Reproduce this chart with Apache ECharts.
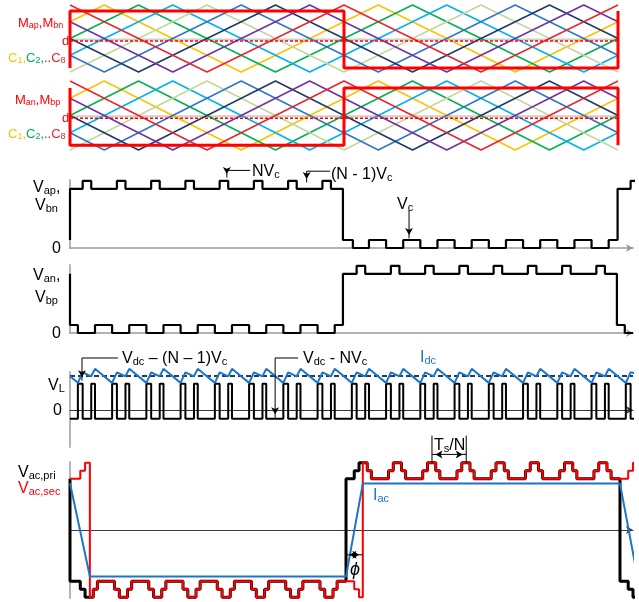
<!DOCTYPE html>
<html><head><meta charset="utf-8">
<script src="https://cdn.jsdelivr.net/npm/echarts@6/dist/echarts.min.js"></script>
<style>html,body{margin:0;padding:0;background:#fff}#c{width:639px;height:602px}</style>
</head><body><div id="c"></div><script>
// ---------- carriers (x in Ts/N units, y normalised 0..1) ----------
const carrierC1 = [[0,0.75],[1,1],[5,0],[9,1],[13,0],[16,0.75]];
const carrierC2 = [[0,0.5],[2,1],[6,0],[10,1],[14,0],[16,0.5]];
const carrierC3 = [[0,0.25],[3,1],[7,0],[11,1],[15,0],[16,0.25]];
const carrierC4 = [[0,0],[4,1],[8,0],[12,1],[16,0]];
const carrierC5 = [[0,0.25],[1,0],[5,1],[9,0],[13,1],[16,0.25]];
const carrierC6 = [[0,0.5],[2,0],[6,1],[10,0],[14,1],[16,0.5]];
const carrierC7 = [[0,0.75],[3,0],[7,1],[11,0],[15,1],[16,0.75]];
const carrierC8 = [[0,1],[4,0],[8,1],[12,0],[16,1]];
const modApBn = [[0,0.06],[0,0.91],[8,0.91],[8,0.06],[16,0.06],[16,0.91]];
const modAnBp = [[0,0.9],[0,0.07],[8,0.07],[8,0.9],[16,0.9],[16,0.07]];
const dLevelTop = [[0,0.463],[16,0.463]];
const refLevelTop = [[0,0.485],[16,0.485]];
const dLevelBot = [[0,0.46],[16,0.46]];
const refLevelBot = [[0,0.49],[16,0.49]];

// ---------- arm voltages (Vc units) ----------
const vapWave = [[0,1],[0,7.4],
 [0.37,8.4],[0.62,7.4],[1.37,8.4],[1.62,7.4],[2.37,8.4],[2.62,7.4],[3.37,8.4],[3.62,7.4],
 [4.37,8.4],[4.62,7.4],[5.37,8.4],[5.62,7.4],[6.37,8.4],[6.62,7.4],[7.37,8.4],[7.62,7.4],
 [7.97,1],[8.26,0],
 [8.73,1],[9.23,0],[9.73,1],[10.23,0],[10.73,1],[11.23,0],[11.73,1],[12.23,0],
 [12.73,1],[13.23,0],[13.73,1],[14.23,0],[14.73,1],[15.23,0],[15.73,1],
 [15.99,7.4],[16.37,8.4],[16.6,8.4]];
const vanWave = [[0,7.4],[0,1],[0.23,0],
 [0.73,1],[1.23,0],[1.73,1],[2.23,0],[2.73,1],[3.23,0],[3.73,1],[4.23,0],
 [4.73,1],[5.23,0],[5.73,1],[6.23,0],[6.73,1],[7.23,0],[7.73,1],
 [7.97,7.4],
 [8.37,8.4],[8.62,7.4],[9.37,8.4],[9.62,7.4],[10.37,8.4],[10.62,7.4],[11.37,8.4],[11.62,7.4],
 [12.37,8.4],[12.62,7.4],[13.37,8.4],[13.62,7.4],[14.37,8.4],[14.62,7.4],[15.37,8.4],[15.62,7.4],
 [15.97,1],[16.2,0],[16.44,0]];

// ---------- inductor voltage & dc current ----------
const vlWave = [[0,-1],
 [0.23,3],[0.37,-1],[0.62,3],[0.73,-1],[1.23,3],[1.37,-1],[1.62,3],[1.73,-1],
 [2.23,3],[2.37,-1],[2.62,3],[2.73,-1],[3.23,3],[3.37,-1],[3.62,3],[3.73,-1],
 [4.23,3],[4.37,-1],[4.62,3],[4.73,-1],[5.23,3],[5.37,-1],[5.62,3],[5.73,-1],
 [6.23,3],[6.37,-1],[6.62,3],[6.73,-1],[7.23,3],[7.37,-1],[7.62,3],[7.73,-1],
 [8.23,3],[8.37,-1],[8.62,3],[8.73,-1],[9.23,3],[9.37,-1],[9.62,3],[9.73,-1],
 [10.23,3],[10.37,-1],[10.62,3],[10.73,-1],[11.23,3],[11.37,-1],[11.62,3],[11.73,-1],
 [12.23,3],[12.37,-1],[12.62,3],[12.73,-1],[13.23,3],[13.37,-1],[13.62,3],[13.73,-1],
 [14.23,3],[14.37,-1],[14.62,3],[14.73,-1],[15.23,3],[15.37,-1],[15.62,3],[15.73,-1],
 [16.23,3],[16.37,-1],[16.47,-1]];
const idcWave = [[0,3.85],
 [0.23,3.1],[0.37,4.3],[0.62,3.85],[0.73,4.7],[1.23,3.1],[1.37,4.3],[1.62,3.85],[1.73,4.7],
 [2.23,3.1],[2.37,4.3],[2.62,3.85],[2.73,4.7],[3.23,3.1],[3.37,4.3],[3.62,3.85],[3.73,4.7],
 [4.23,3.1],[4.37,4.3],[4.62,3.85],[4.73,4.7],[5.23,3.1],[5.37,4.3],[5.62,3.85],[5.73,4.7],
 [6.23,3.1],[6.37,4.3],[6.62,3.85],[6.73,4.7],[7.23,3.1],[7.37,4.3],[7.62,3.85],[7.73,4.7],
 [8.23,3.1],[8.37,4.3],[8.62,3.85],[8.73,4.7],[9.23,3.1],[9.37,4.3],[9.62,3.85],[9.73,4.7],
 [10.23,3.1],[10.37,4.3],[10.62,3.85],[10.73,4.7],[11.23,3.1],[11.37,4.3],[11.62,3.85],[11.73,4.7],
 [12.23,3.1],[12.37,4.3],[12.62,3.85],[12.73,4.7],[13.23,3.1],[13.37,4.3],[13.62,3.85],[13.73,4.7],
 [14.23,3.1],[14.37,4.3],[14.62,3.85],[14.73,4.7],[15.23,3.1],[15.37,4.3],[15.62,3.85],[15.73,4.7],
 [16.23,3.1],[16.37,4.3],[16.5,4.2]];
const idcMean = [[0,3.89],[16.44,3.89]];

// ---------- transformer voltages & ac current ----------
const vacPri = [[0,6.4],[0,-6.4],
 [0.3,-7.4],[0.44,-8.4],[0.68,-7.4],[0.8,-6.4],[1.3,-7.4],[1.44,-8.4],[1.68,-7.4],[1.8,-6.4],
 [2.3,-7.4],[2.44,-8.4],[2.68,-7.4],[2.8,-6.4],[3.3,-7.4],[3.44,-8.4],[3.68,-7.4],[3.8,-6.4],
 [4.3,-7.4],[4.44,-8.4],[4.68,-7.4],[4.8,-6.4],[5.3,-7.4],[5.44,-8.4],[5.68,-7.4],[5.8,-6.4],
 [6.3,-7.4],[6.44,-8.4],[6.68,-7.4],[6.8,-6.4],[7.3,-7.4],[7.44,-8.4],[7.68,-7.4],[7.8,-6.4],
 [8.06,6.4],
 [8.3,7.4],[8.44,8.4],[8.68,7.4],[8.8,6.4],[9.3,7.4],[9.44,8.4],[9.68,7.4],[9.8,6.4],
 [10.3,7.4],[10.44,8.4],[10.68,7.4],[10.8,6.4],[11.3,7.4],[11.44,8.4],[11.68,7.4],[11.8,6.4],
 [12.3,7.4],[12.44,8.4],[12.68,7.4],[12.8,6.4],[13.3,7.4],[13.44,8.4],[13.68,7.4],[13.8,6.4],
 [14.3,7.4],[14.44,8.4],[14.68,7.4],[14.8,6.4],[15.3,7.4],[15.44,8.4],[15.68,7.4],[15.8,6.4],
 [16.06,-6.4],[16.3,-7.4],[16.44,-8.4],[16.6,-8.4]];
const vacSec = [[0,6.4],[0.3,7.4],[0.44,8.4],
 [0.58,-8.4],[0.68,-7.4],[0.8,-6.4],[1.3,-7.4],[1.44,-8.4],[1.68,-7.4],[1.8,-6.4],
 [2.3,-7.4],[2.44,-8.4],[2.68,-7.4],[2.8,-6.4],[3.3,-7.4],[3.44,-8.4],[3.68,-7.4],[3.8,-6.4],
 [4.3,-7.4],[4.44,-8.4],[4.68,-7.4],[4.8,-6.4],[5.3,-7.4],[5.44,-8.4],[5.68,-7.4],[5.8,-6.4],
 [6.3,-7.4],[6.44,-8.4],[6.68,-7.4],[6.8,-6.4],[7.3,-7.4],[7.44,-8.4],[7.68,-7.4],[7.8,-6.4],
 [8.3,-7.4],[8.44,-8.4],
 [8.55,8.4],[8.68,7.4],[8.8,6.4],[9.3,7.4],[9.44,8.4],[9.68,7.4],[9.8,6.4],
 [10.3,7.4],[10.44,8.4],[10.68,7.4],[10.8,6.4],[11.3,7.4],[11.44,8.4],[11.68,7.4],[11.8,6.4],
 [12.3,7.4],[12.44,8.4],[12.68,7.4],[12.8,6.4],[13.3,7.4],[13.44,8.4],[13.68,7.4],[13.8,6.4],
 [14.3,7.4],[14.44,8.4],[14.68,7.4],[14.8,6.4],[15.3,7.4],[15.44,8.4],[15.68,7.4],[15.8,6.4],
 [16.3,7.4],[16.44,8.4],[16.55,-8.4],[16.57,-8.4]];
const iacWave = [[0,5.85],[0.58,-5.8],[8.06,-5.8],[8.55,5.8],[16.06,5.8],[16.55,-5.4]];

// ---------- annotation anchor points (data units) ----------
const arrNVc = [[5.26,9.7],[4.58,9.7],[4.58,8.8]];
const arrN1Vc = [[7.59,9.6],[6.91,9.6],[6.91,8.2]];
const arrVc = [[9.9,4.75],[9.9,1.2]];
const arrVdcN1 = [[1.4,5.94],[0.35,5.94],[0.35,3.35]];
const arrVdcN = [[6.66,5.94],[5.99,5.94],[5.99,-0.9]];
const arrPhi = [[8.06,-3.1],[8.55,-3.1]];
const tsTickA = [[10.57,11.8],[10.57,8.4]];
const tsTickB = [[11.57,11.8],[11.57,8.4]];
const tsSpan = [[10.57,9.45],[11.57,9.45]];

const FONT = '"Liberation Sans", Arial, Helvetica, sans-serif';
const YEL='#FFC000', GRN='#00B050', LBL='#00B0F0', OLV='#C3D69B', BLU='#2E75C6', NAV='#1F3864', PUR='#7030A0', CRED='#E8262A', RED='#FF0000', IBLUE='#1C75C8';

const carriers = [[carrierC1,YEL],[carrierC2,GRN],[carrierC3,LBL],[carrierC4,OLV],[carrierC5,BLU],[carrierC6,NAV],[carrierC7,PUR],[carrierC8,CRED]];

const grids = [
 {left:70, top:5, width:548, height:67},
 {left:70, top:81, width:548, height:69},
 {left:70, top:180, width:563, height:68},
 {left:70, top:265, width:563, height:68},
 {left:70, top:372, width:563, height:75},
 {left:70, top:462, width:563, height:136}
];
const yRanges = [[0,1],[0,1],[0,8.5],[0,8.5],[-4.23,4.34],[-8.5,8.5]];
const xAxisColor = [null,null,'#9a9a9a','#9a9a9a','#3a3a3a','#3a3a3a'];
const xAxisWidth = [0,0,1.5,1.5,1,1];

const xAxes = grids.map((g,i)=>({
  gridIndex:i, type:'value', min:0, max: i<2?16:16.44,
  show: i>=2,
  axisLine:{show:i>=2, onZero:true, symbol:['none','arrow'], symbolSize:[6,7], lineStyle:{color:xAxisColor[i]||'#999', width:xAxisWidth[i]}},
  axisTick:{show:false}, axisLabel:{show:false}, splitLine:{show:false}
}));
const yAxes = grids.map((g,i)=>({
  gridIndex:i, type:'value', min:yRanges[i][0], max:yRanges[i][1],
  show: i>=2,
  axisLine:{show:i>=2, onZero:true, lineStyle:{color:'#b4b4b4', width:2}},
  axisTick:{show:false}, axisLabel:{show:false}, splitLine:{show:false}
}));

const series = [];
function addLine(g, data, color, width, extra){
  const s = Object.assign({type:'line', xAxisIndex:g, yAxisIndex:g, data:data, symbol:'none', showSymbol:false,
    clip:false, silent:true, animation:false, lineStyle:{color:color, width:width}}, extra||{});
  series.push(s); return s;
}
// annotation arrows: polyline with arrow head(s) on the ends
const AH = [6,7];
function arrowItem(p, q){
  let rot, off;
  if (p[0] === q[0]) { if (p[1] < q[1]) { rot = 180; off = [0,-AH[1]/2]; } else { rot = 0; off = [0,AH[1]/2]; } }
  else { if (p[0] > q[0]) { rot = -90; off = [-AH[1]/2,0]; } else { rot = 90; off = [AH[1]/2,0]; } }
  return {value:p, symbol:'arrow', symbolSize:AH, symbolRotate:rot, symbolOffset:off};
}
function addPath(g, pts, startArrow, endArrow){
  const n = pts.length;
  const data = pts.map((p,i)=>{
    if (i===n-1 && endArrow) return arrowItem(p, pts[i-1]);
    if (i===0 && startArrow) return arrowItem(p, pts[1]);
    return {value:p, symbol:'none'};
  });
  addLine(g, data, '#000', 1, {showSymbol:true, showAllSymbol:true, symbol:'none', itemStyle:{color:'#000'}, z:5});
}

// top carrier panels
[[0,modApBn,dLevelTop,refLevelTop],[1,modAnBp,dLevelBot,refLevelBot]].forEach(([g,box,dl,rl])=>{
  addLine(g, rl, '#cfcfcf', 2);
  carriers.forEach(([d,c])=>addLine(g, d, c, 1.5));
  addLine(g, dl, RED, 1.5, {lineStyle:{color:RED, width:1.5, type:[3,2]}});
  addLine(g, box, RED, 3);
});

// arm voltages
addLine(2, vapWave, '#000', 2.2, {step:'end'});
addLine(3, vanWave, '#000', 2.2, {step:'end'});
addPath(2, arrNVc, false, true);
addPath(2, arrN1Vc, false, true);
addPath(2, arrVc, false, true);

// inductor voltage / dc current
addLine(4, vlWave, '#000', 2, {step:'end'});
addLine(4, idcMean, NAV, 2, {lineStyle:{color:NAV, width:2, type:[5,3]}});
addLine(4, idcWave, IBLUE, 2);
addPath(4, arrVdcN1, false, true);
addPath(4, arrVdcN, false, true);

// transformer voltages / ac current
addLine(5, vacPri, '#000', 3, {step:'end'});
addLine(5, vacSec, RED, 2, {step:'end'});
addLine(5, iacWave, IBLUE, 2);
addPath(5, arrPhi, true, true);
addPath(5, tsTickA, false, false);
addPath(5, tsTickB, false, false);
addPath(5, tsSpan, true, true);

// ---------- text ----------
function rtext(x, y, parts, size, align, italic){
  let text=''; const rich={};
  parts.forEach((p,i)=>{
    const key='t'+i, sub=p[1], col=p[2]||'#000';
    text += '{'+key+'|'+p[0]+'}';
    rich[key] = {fontSize: sub? Math.round(size*0.68): size, fontFamily:FONT, fill:col, color:col,
      fontStyle: italic?'italic':'normal',
      verticalAlign:'bottom', lineHeight: sub? Math.round(size*0.55): Math.round(size*1.1)};
  });
  return {type:'text', x:x, y:y, silent:true, z:100,
    style:{text:text, rich:rich, font: size+'px '+FONT, textAlign:align||'left', align:align||'left',
      textVerticalAlign:'middle', verticalAlign:'middle'}};
}
const graphic = [
  rtext(18,23,[['M',0,RED],['ap',1,RED],[',M',0,RED],['bn',1,RED]],13),
  rtext(62,41,[['d',0,RED]],13),
  rtext(8,58,[['C',0,YEL],['1',1,YEL],[',',0,YEL],['C',0,GRN],['2',1,GRN],[',',0,GRN],['..',0,'#555'],['C',0,CRED],['8',1,CRED]],13),
  rtext(15,100,[['M',0,RED],['an',1,RED],[',M',0,RED],['bp',1,RED]],13),
  rtext(62,118,[['d',0,RED]],13),
  rtext(8,134,[['C',0,YEL],['1',1,YEL],[',',0,YEL],['C',0,GRN],['2',1,GRN],[',',0,GRN],['..',0,'#555'],['C',0,CRED],['8',1,CRED]],13),

  rtext(33,187,[['V',0],['ap',1],[',',0]],16),
  rtext(35,205,[['V',0],['bn',1]],16),
  rtext(52,248,[['0',0]],16),
  rtext(33,275,[['V',0],['an',1],[',',0]],16),
  rtext(35,297,[['V',0],['bp',1]],16),
  rtext(52,333,[['0',0]],16),
  rtext(48,385,[['V',0],['L',1]],16),
  rtext(53,410,[['0',0]],16),
  rtext(18,472,[['V',0],['ac,pri',1]],16),
  rtext(18,488,[['V',0,RED],['ac,sec',1,RED]],16),

  rtext(252,171,[['NV',0],['c',1]],16),
  rtext(331,174,[['(N - 1)V',0],['c',1]],16),
  rtext(397,204,[['V',0],['c',1]],16),
  rtext(122,358,[['V',0],['dc',1],[' – (N – 1)V',0],['c',1]],16),
  rtext(303,358,[['V',0],['dc',1],[' - NV',0],['c',1]],16),
  rtext(420,357,[['I',0,IBLUE],['dc',1,IBLUE]],16),
  rtext(434,445,[['T',0],['s',1],['/N',0]],16),
  rtext(373,495,[['I',0,IBLUE],['ac',1,IBLUE]],16),
  rtext(350,569,[['ϕ',0]],18,'left',true)
];

const chart = echarts.init(document.getElementById('c'), null, {renderer:'canvas'});
chart.setOption({
  backgroundColor:'#fff', animation:false,
  grid: grids, xAxis: xAxes, yAxis: yAxes, series: series, graphic: graphic
});
</script></body></html>
